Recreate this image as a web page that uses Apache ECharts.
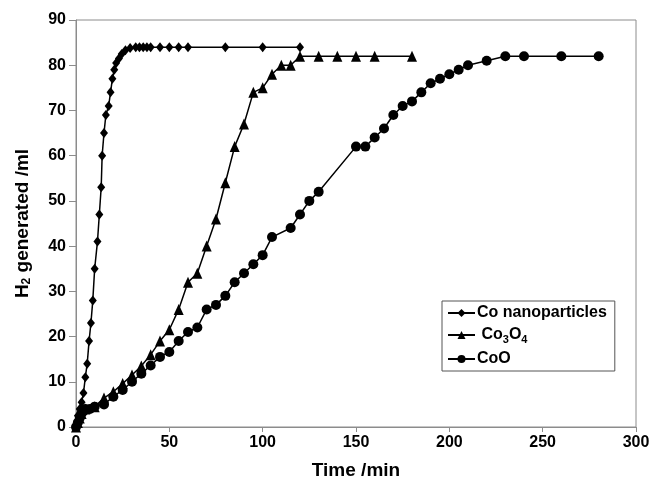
<!DOCTYPE html>
<html>
<head>
<meta charset="utf-8">
<script src="https://cdn.jsdelivr.net/npm/echarts@6/dist/echarts.min.js"></script>
<style>
  html, body { margin: 0; padding: 0; background: #fff; }
  #chart { width: 655px; height: 485px; }
</style>
</head>
<body>
<div id="chart"></div>
<script>
// Hydrogen evolution over time for three cobalt catalysts
const xTicks = [0, 50, 100, 150, 200, 250, 300];
const yTicks = [0, 10, 20, 30, 40, 50, 60, 70, 80, 90];

const coNanoTime = [0, 1, 2, 3, 4, 5, 6, 7, 8, 9, 10, 11.5, 12.5, 13.5, 14, 15, 16, 17.5, 18.5, 19.5, 20.5, 21.5, 23, 24.5, 26.5, 29, 32, 34, 36, 38, 40, 45, 50, 55, 60, 80, 100, 120];
const coNanoH2   = [0, 2.5, 4, 5.5, 7.5, 11, 14, 19, 23, 28, 35, 41, 47, 53, 60, 65, 69, 71, 74, 77, 79, 80.5, 81.5, 82.5, 83.3, 83.8, 84, 84, 84, 84, 84, 84, 84, 84, 84, 84, 84, 84];

const co3o4Time = [0, 1, 2, 3, 5, 10, 15, 20, 25, 30, 35, 40, 45, 50, 55, 60, 65, 70, 75, 80, 85, 90, 95, 100, 105, 110, 115, 120, 130, 140, 150, 160, 180];
const co3o4H2   = [0, 1, 2, 3, 4, 4.5, 6.4, 7.8, 9.6, 11.5, 13.5, 16, 19, 21.5, 26, 32, 34, 40, 46, 54, 62, 67, 74, 75, 78, 80, 80, 82, 82, 82, 82, 82, 82];

const cooTime = [0, 1, 2, 3, 4, 5, 7.5, 10, 15, 20, 25, 30, 35, 40, 45, 50, 55, 60, 65, 70, 75, 80, 85, 90, 95, 100, 105, 115, 120, 125, 130, 150, 155, 160, 165, 170, 175, 180, 185, 190, 195, 200, 205, 210, 220, 230, 240, 260, 280];
const cooH2   = [0, 1, 2, 3, 3.5, 4, 4, 4.5, 5, 6.7, 8.2, 10, 11.8, 13.6, 15.5, 16.6, 19, 21, 22, 26, 27, 29, 32, 34, 36, 38, 42, 44, 47, 50, 52, 62, 62, 64, 66, 69, 71, 72, 74, 76, 77, 78, 79, 80, 81, 82, 82, 82, 82];

const pairs = (xs, ys) => xs.map((x, i) => [x, ys[i]]);

const FONT = '"Liberation Sans", Arial, sans-serif';

const chart = echarts.init(document.getElementById('chart'), null, { renderer: 'canvas' });

const baseSeries = {
  type: 'line',
  color: '#000',
  lineStyle: { color: '#000', width: 1.5 },
  itemStyle: { color: '#000' },
  showAllSymbol: true,
  animation: false
};

chart.setOption({
  backgroundColor: '#fff',
  animation: false,
  textStyle: { fontFamily: FONT },
  grid: {
    left: 76, right: 19, top: 20, bottom: 54,
    show: true, borderColor: '#8c8c8c', borderWidth: 1
  },
  legend: {
    orient: 'vertical',
    left: 442, top: 301,
    width: 174,
    padding: [4, 8, 4, 5],
    itemGap: 6,
    itemWidth: 27, itemHeight: 10,
    borderColor: '#555', borderWidth: 1,
    backgroundColor: '#fff',
    textStyle: {
      fontFamily: FONT, fontSize: 16, fontWeight: 'bold', color: '#000',
      padding: [0, 0, 0, -3],
      rich: {
        m: { fontFamily: FONT, fontSize: 16, fontWeight: 'bold', color: '#000' },
        sub: { fontFamily: FONT, fontSize: 11, fontWeight: 'bold', color: '#000', verticalAlign: 'bottom', padding: [9, 0, 0, 0] }
      }
    },
    formatter: function (name) {
      if (name === 'Co3O4') return '{m| Co}{sub|3}{m|O}{sub|4}';
      return name;
    },
    data: ['Co nanoparticles', 'Co3O4', 'CoO']
  },
  xAxis: {
    type: 'value',
    min: xTicks[0], max: xTicks[xTicks.length - 1], interval: 50,
    name: 'Time /min',
    nameLocation: 'middle',
    nameGap: 34,
    nameTextStyle: { fontFamily: FONT, fontSize: 19, fontWeight: 'bold', color: '#000' },
    axisLine: { show: true, lineStyle: { color: '#8c8c8c', width: 1 } },
    axisTick: { show: true, inside: false, length: 5, lineStyle: { color: '#8c8c8c' } },
    axisLabel: { fontFamily: FONT, fontSize: 16, fontWeight: 'bold', color: '#000', margin: 8 },
    splitLine: { show: false }
  },
  yAxis: {
    type: 'value',
    min: yTicks[0], max: yTicks[yTicks.length - 1], interval: 10,
    name: '{b|H}{s|2}{b| generated /ml}',
    nameLocation: 'middle',
    nameGap: 43,
    nameRotate: 90,
    nameTextStyle: {
      fontFamily: FONT, fontSize: 19, fontWeight: 'bold', color: '#000',
      rich: {
        b: { fontFamily: FONT, fontSize: 19, fontWeight: 'bold', color: '#000' },
        s: { fontFamily: FONT, fontSize: 12, fontWeight: 'bold', color: '#000', verticalAlign: 'bottom', padding: [8, 0, 0, 0] }
      }
    },
    axisLine: { show: true, lineStyle: { color: '#8c8c8c', width: 1 } },
    axisTick: { show: true, inside: false, length: 7, lineStyle: { color: '#8c8c8c' } },
    axisLabel: { fontFamily: FONT, fontSize: 16, fontWeight: 'bold', color: '#000', margin: 10 },
    splitLine: { show: false }
  },
  series: [
    Object.assign({}, baseSeries, {
      name: 'Co nanoparticles',
      symbol: 'diamond', symbolSize: [8, 10],
      data: pairs(coNanoTime, coNanoH2)
    }),
    Object.assign({}, baseSeries, {
      name: 'Co3O4',
      symbol: 'triangle', symbolSize: [10, 11],
      data: pairs(co3o4Time, co3o4H2)
    }),
    Object.assign({}, baseSeries, {
      name: 'CoO',
      symbol: 'circle', symbolSize: 10,
      data: pairs(cooTime, cooH2)
    })
  ]
});
</script>
</body>
</html>
